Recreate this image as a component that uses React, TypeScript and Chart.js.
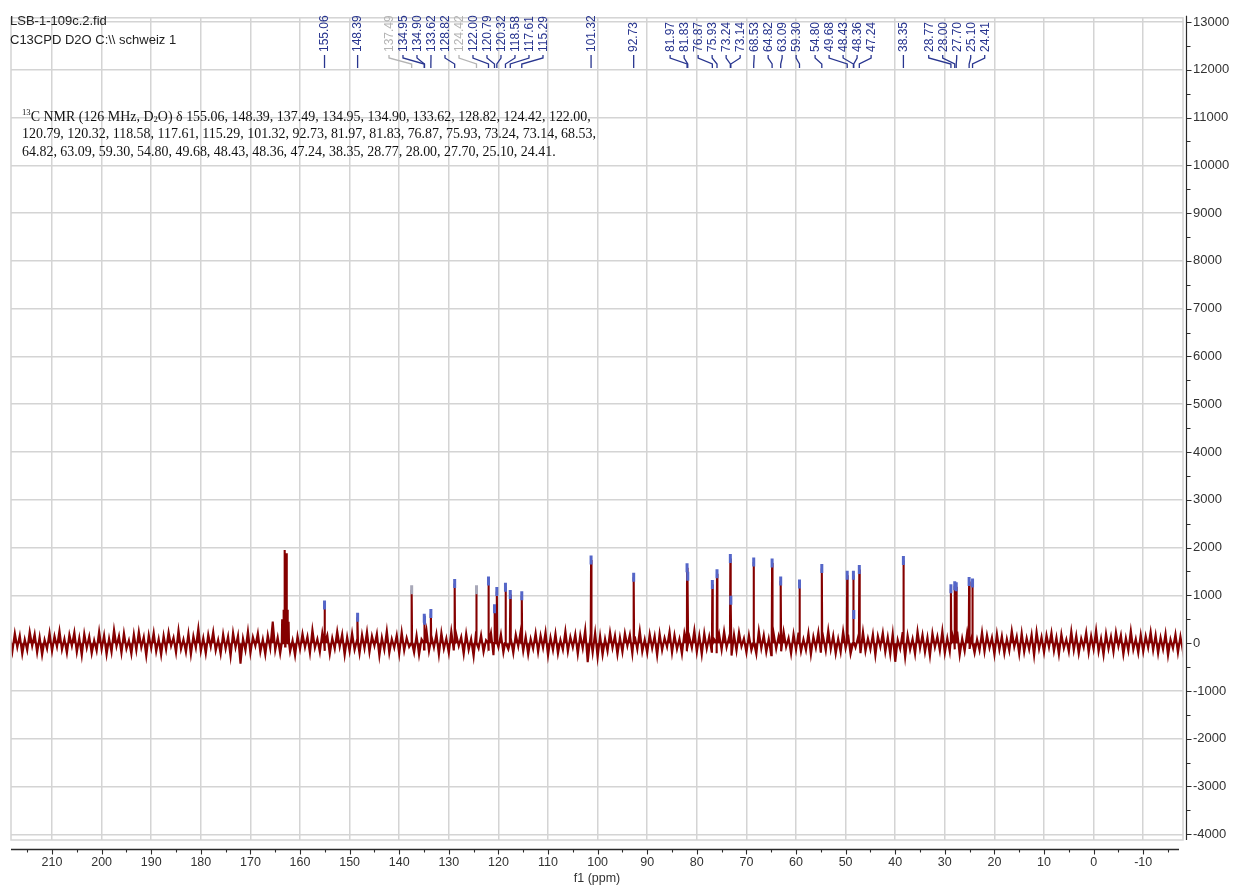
import React, { useEffect, useRef } from 'react';
import { Chart, registerables } from 'chart.js';

Chart.register(...registerables);

// ---------------- DATA ----------------
const xAxisMaxPpm = 218.27;
const xAxisMinPpm = -18.02;
const yAxisMin = -4120;
const yAxisMax = 13088;

const xTickValues = [210, 200, 190, 180, 170, 160, 150, 140, 130, 120, 110, 100, 90, 80, 70, 60, 50, 40, 30, 20, 10, 0, -10];
const yTickValues = [-4000, -3000, -2000, -1000, 0, 1000, 2000, 3000, 4000, 5000, 6000, 7000, 8000, 9000, 10000, 11000, 12000, 13000];

// baseline noise, sampled from 218.5 ppm every 0.5 ppm
const noiseStartPpm = 218.5;
const noiseStepPpm = 0.5;
const noiseValues = [
  120, -180, 210, -90, 160, -230, 80, -150, 240, -60, 190, -200, 130, -250, 70, -120, 220, -170, 150, -80,
  260, -140, 90, -210, 180, -60, 230, -190, 110, -260, 200, -100, 140, -220, 60, -160, 250, -130, 170, -240,
  100, -190, 280, -70, 150, -210, 210, -120, 60, -230, 190, -150, 240, -90, 130, -270, 170, -110, 220, -180,
  90, -250, 160, -140, 230, -60, 120, -200, 270, -130, 80, -190, 200, -240, 150, -100, 310, -170, 110, -220,
  180, -80, 240, -160, 70, -230, 190, -120, 140, -280, 220, -90, 160, -430, 100, -150, 250, -210, 130, -60,
  210, -190, 80, -240, 170, -110, 450, -150, 120, -220, 190, -70, 230, -180, 60, -260, 150, -130, 200, -90,
  140, -210, 280, -100, 90, -190, 220, -160, 170, -230, 110, -120, 250, -80, 190, -250, 130, -170, 210, -140,
  70, -220, 180, -110, 240, -190, 150, -60, 200, -270, 120, -140, 260, -210, 90, -100, 170, -230, 230, -160,
  110, -80, 210, -200, 160, -250, 80, -130, 270, -170, 140, -90, 190, -240, 220, -120, 100, -210, 250, -150,
  180, -60, 130, -230, 200, -140, 90, -280, 240, -110, 170, -190, 60, -160, 220, -250, 150, -90, 190, -200,
  240, -130, 110, -210, 180, -70, 260, -170, 140, -240, 90, -120, 210, -190, 160, -100, 230, -260, 120, -150,
  200, -220, 70, -140, 250, -180, 130, -90, 190, -230, 170, -110, 280, -400, 100, -200, 220, -300, 150, -250,
  90, -170, 230, -100, 160, -240, 120, -190, 210, -60, 180, -220, 140, -130, 260, -180, 80, -210, 190, -110,
  150, -260, 200, -150, 110, -80, 240, -200, 170, -130, 90, -230, 220, -170, 130, -100, 270, -190, 160, -240,
  210, -120, 140, -180, 80, -210, 190, -140, 250, -90, 120, -260, 180, -160, 230, -70, 100, -200, 170, -150,
  130, -230, 260, -110, 170, -190, 90, -250, 200, -120, 150, -170, 240, -80, 110, -220, 190, -140, 220, -180,
  80, -150, 210, -240, 140, -100, 230, -200, 120, -160, 270, -130, 160, -220, 90, -190, 250, -110, 180, -230,
  170, -90, 120, -210, 240, -170, 100, -130, 190, -260, 150, -80, 220, -190, 130, -240, 200, -390, 70, -120,
  230, -300, 160, -140, 90, -230, 250, -110, 180, -190, 120, -270, 210, -90, 140, -160, 260, -210, 110, -180,
  190, -130, 240, -250, 100, -170, 220, -120, 160, -210, 80, -150, 230, -180, 170, -100, 120, -240, 200, -140,
  150, -220, 90, -160, 260, -80, 140, -230, 210, -190, 110, -130, 180, -260, 240, -120, 130, -200, 170, -90,
  220, -170, 120, -240, 190, -110, 80, -180, 250, -150, 160, -220, 100, -90, 230, -200, 150, -130, 270, -180,
  100, -250, 200, -120, 140, -190, 230, -70, 170, -240, 110, -160, 260, -140, 90, -210, 180, -180, 150, -100,
  240, -150, 170, -220, 120, -130, 200, -260, 80, -110, 190, -200, 140, -170, 220, -90, 160, -230, 110, -160,
];

// solvent / reference multiplet (unlabelled)
const solventPpm = [163.6, 163.3, 163.05, 162.8, 162.55, 162.3];
const solventHeights = [500, 700, 1950, 1880, 700, 450];

// picked peaks
const peakPpm = [
  155.06, 148.39, 137.49, 134.95, 134.90, 133.62, 128.82, 124.42, 122.00,
  120.79, 120.32, 118.58, 117.61, 115.29, 101.32, 92.73, 81.97, 81.83, 76.87, 75.93, 73.24, 73.14, 68.53,
  64.82, 63.09, 59.30, 54.80, 49.68, 48.43, 48.36, 47.24, 38.35, 28.77, 28.00, 27.70, 25.10, 24.41,
];
const peakHeights = [
  800, 540, 1120, 520, 480, 620, 1250, 1120, 1300,
  720, 1080, 1170, 1020, 990, 1740, 1380, 1580, 1400, 1230, 1450, 1770, 900, 1700,
  1680, 1300, 1240, 1560, 1420, 1420, 600, 1540, 1730, 1140, 1200, 1180, 1290, 1260,
];
const peakLabels = [
  '155.06', '148.39', '137.49', '134.95', '134.90', '133.62', '128.82', '124.42', '122.00',
  '120.79', '120.32', '118.58', '117.61', '115.29', '101.32', '92.73', '81.97', '81.83', '76.87', '75.93', '73.24', '73.14', '68.53',
  '64.82', '63.09', '59.30', '54.80', '49.68', '48.43', '48.36', '47.24', '38.35', '28.77', '28.00', '27.70', '25.10', '24.41',
];
const greyPeakLabels = ['137.49', '124.42'];

const headerLines = ['LSB-1-109c.2.fid', 'C13CPD D2O C:\\\\ schweiz 1'];
const annotationPrefix = ['13', 'C NMR (126 MHz, D', '2', 'O) \u03b4 '];
const annotationLineCounts = [9, 14, 14];

// ---------------- STYLE ----------------
const SPECTRUM_COLOR = '#850000';
const LABEL_COLOR = '#28358f';
const GREY_LABEL = '#b4b4b4';
const GRID_COLOR = '#d4d4d4';
const AXIS_COLOR = '#2a2a2a';
const SANS = "'Liberation Sans', Arial, sans-serif";
const SERIF = "'Liberation Serif', 'Times New Roman', serif";

function layoutLabels(px: number[], gap: number): number[] {
  type Cl = { idx: number[]; center: number };
  let cl: Cl[] = px.map((p, i) => ({ idx: [i], center: p }));
  let merged = true;
  while (merged) {
    merged = false;
    for (let i = 0; i < cl.length - 1; i++) {
      const a = cl[i];
      const b = cl[i + 1];
      const aEnd = a.center + ((a.idx.length - 1) * gap) / 2;
      const bStart = b.center - ((b.idx.length - 1) * gap) / 2;
      if (bStart - aEnd < gap) {
        const idx = a.idx.concat(b.idx);
        const center = idx.reduce((s, k) => s + px[k], 0) / idx.length;
        cl.splice(i, 2, { idx, center });
        merged = true;
        break;
      }
    }
  }
  const out: number[] = new Array(px.length).fill(0);
  cl.forEach((c) => {
    const shift = c.idx.length > 1 ? -4 : 0;
    c.idx.forEach((k, j) => {
      out[k] = c.center - ((c.idx.length - 1) * gap) / 2 + j * gap + shift;
    });
  });
  return out;
}

const decorPlugin = {
  id: 'nmrDecor',
  afterDraw(chart: any) {
    const ctx: CanvasRenderingContext2D = chart.ctx;
    const area = chart.chartArea;
    const xs = chart.scales.x;
    const ys = chart.scales.y;
    ctx.save();

    // plot frame
    ctx.strokeStyle = GRID_COLOR;
    ctx.lineWidth = 1.5;
    ctx.strokeRect(area.left, area.top, area.right - area.left, area.bottom - area.top);

    // y axis line + ticks
    const yAxisX = Math.round(area.right + 3) + 0.5;
    ctx.strokeStyle = AXIS_COLOR;
    ctx.lineWidth = 1.2;
    ctx.beginPath();
    ctx.moveTo(yAxisX, area.top - 2);
    ctx.lineTo(yAxisX, area.bottom);
    yTickValues.forEach((v) => {
      const y = Math.round(ys.getPixelForValue(v)) + 0.5;
      ctx.moveTo(yAxisX, y);
      ctx.lineTo(yAxisX + 5, y);
      const m = v + 500;
      if (m < yAxisMax) {
        const ym = Math.round(ys.getPixelForValue(m)) + 0.5;
        ctx.moveTo(yAxisX, ym);
        ctx.lineTo(yAxisX + 4, ym);
      }
    });
    ctx.stroke();

    // x axis line + ticks
    const xAxisY = Math.round(area.bottom + 9) + 0.5;
    ctx.beginPath();
    ctx.lineWidth = 1.4;
    ctx.moveTo(area.left, xAxisY);
    ctx.lineTo(area.right - 4, xAxisY);
    ctx.stroke();
    ctx.lineWidth = 1.1;
    ctx.beginPath();
    xTickValues.forEach((v) => {
      const x = Math.round(xs.getPixelForValue(v)) + 0.5;
      ctx.moveTo(x, xAxisY);
      ctx.lineTo(x, xAxisY + 5);
      [v + 5, v - 5].forEach((m) => {
        if (m < xAxisMaxPpm && m > xAxisMinPpm) {
          const xm = Math.round(xs.getPixelForValue(m)) + 0.5;
          ctx.moveTo(xm, xAxisY);
          ctx.lineTo(xm, xAxisY + 3);
        }
      });
    });
    ctx.stroke();

    // peak labels
    const px = peakPpm.map((p) => xs.getPixelForValue(p));
    const lx = layoutLabels(px, 14);
    ctx.font = `12px ${SANS}`;
    ctx.textAlign = 'left';
    ctx.textBaseline = 'middle';
    peakLabels.forEach((lab, i) => {
      const col = greyPeakLabels.includes(lab) ? GREY_LABEL : LABEL_COLOR;
      ctx.fillStyle = col;
      ctx.strokeStyle = col;
      ctx.save();
      ctx.translate(lx[i], 52);
      ctx.rotate(-Math.PI / 2);
      ctx.fillText(lab, 0, 0.5);
      ctx.restore();
      ctx.lineWidth = 1.3;
      ctx.beginPath();
      ctx.moveTo(lx[i], 55);
      ctx.lineTo(lx[i], 58);
      ctx.lineTo(px[i], 64);
      ctx.lineTo(px[i], 68);
      ctx.stroke();
    });

    // header text
    ctx.fillStyle = '#222';
    ctx.font = `13px ${SANS}`;
    ctx.textBaseline = 'middle';
    ctx.fillText(headerLines[0], 10, 21);
    ctx.fillText(headerLines[1], 10, 40);

    // annotation
    const numsLines: string[] = [];
    let k = 0;
    annotationLineCounts.forEach((n, li) => {
      const part = peakLabels.slice(k, k + n);
      k += n;
      const last = li === annotationLineCounts.length - 1;
      numsLines.push(part.join(', ') + (last ? '.' : ','));
    });
    const bodyFont = `14.5px ${SERIF}`;
    const smallFont = `9px ${SERIF}`;
    ctx.font = bodyFont;
    const w2 = ctx.measureText(numsLines[1]).width;
    const f = (596 - 22) / w2;
    ctx.fillStyle = '#111';
    ctx.textBaseline = 'middle';
    const drawSegs = (segs: { t: string; font: string; dy: number }[], x: number, y: number) => {
      ctx.save();
      ctx.translate(x, y);
      ctx.scale(f, 1);
      let cx = 0;
      segs.forEach((s) => {
        ctx.font = s.font;
        ctx.fillText(s.t, cx, s.dy);
        cx += ctx.measureText(s.t).width;
      });
      ctx.restore();
    };
    drawSegs(
      [
        { t: annotationPrefix[0], font: smallFont, dy: -4 },
        { t: annotationPrefix[1], font: bodyFont, dy: 0 },
        { t: annotationPrefix[2], font: smallFont, dy: 3 },
        { t: annotationPrefix[3] + numsLines[0], font: bodyFont, dy: 0 },
      ],
      22,
      117
    );
    drawSegs([{ t: numsLines[1], font: bodyFont, dy: 0 }], 22, 134.5);
    drawSegs([{ t: numsLines[2], font: bodyFont, dy: 0 }], 22, 152);

    ctx.restore();
  },
};

function buildSpectrum() {
  const pts: { x: number; y: number }[] = [];
  noiseValues.forEach((v, i) => pts.push({ x: noiseStartPpm - i * noiseStepPpm, y: v }));
  const hw = 0.08;
  const addPeak = (p: number, h: number) => {
    pts.push({ x: p + hw, y: 0 });
    pts.push({ x: p, y: h });
    pts.push({ x: p - hw, y: 0 });
  };
  solventPpm.forEach((p, i) => addPeak(p, solventHeights[i]));
  peakPpm.forEach((p, i) => addPeak(p, peakHeights[i]));
  pts.sort((a, b) => b.x - a.x);
  return pts;
}

export default function App() {
  const canvasRef = useRef<HTMLCanvasElement | null>(null);

  useEffect(() => {
    document.body.style.margin = '0';
    const canvas = canvasRef.current;
    if (!canvas) return;
    const tickFont = { family: SANS, size: 12.5 };
    const chart = new Chart(canvas, {
      type: 'line',
      data: {
        datasets: [
          {
            type: 'line',
            data: peakPpm.map((p, i) => ({ x: p, y: peakHeights[i] })),
            showLine: false,
            pointStyle: 'line',
            pointRotation: 90,
            pointRadius: 4.5,
            pointBorderWidth: 3,
            pointBorderColor: peakLabels.map((l) => (greyPeakLabels.includes(l) ? '#a8a8b8' : '#5566c8')),
            pointBackgroundColor: '#5566c8',
            order: 0,
          } as any,
          {
            type: 'line',
            data: buildSpectrum(),
            borderColor: SPECTRUM_COLOR,
            backgroundColor: SPECTRUM_COLOR,
            borderWidth: 2.1,
            pointRadius: 0,
            tension: 0,
            fill: 'origin',
            order: 1,
          } as any,
        ],
      },
      options: {
        animation: false,
        responsive: false,
        maintainAspectRatio: false,
        devicePixelRatio: 1,
        parsing: false as any,
        normalized: true,
        events: [],
        layout: { padding: { left: 11, top: 13, right: 0, bottom: 0 } },
        plugins: { legend: { display: false }, tooltip: { enabled: false } },
        scales: {
          x: {
            type: 'linear',
            reverse: true,
            min: xAxisMinPpm,
            max: xAxisMaxPpm,
            position: 'bottom',
            afterBuildTicks: (s: any) => {
              s.ticks = xTickValues.map((v) => ({ value: v }));
            },
            afterFit: (s: any) => {
              s.height = 48;
            },
            grid: { color: GRID_COLOR, lineWidth: 1.5, drawTicks: false },
            border: { display: false },
            ticks: {
              padding: 15,
              color: '#333',
              font: tickFont,
              maxRotation: 0,
              autoSkip: false,
              callback: (v: any) => String(v),
            },
            title: {
              display: true,
              text: 'f1 (ppm)',
              color: '#333',
              font: tickFont,
              padding: { top: 0, bottom: 2 },
            },
          },
          y: {
            type: 'linear',
            position: 'right',
            min: yAxisMin,
            max: yAxisMax,
            afterBuildTicks: (s: any) => {
              s.ticks = yTickValues.map((v) => ({ value: v }));
            },
            afterFit: (s: any) => {
              s.width = 58;
            },
            grid: { color: GRID_COLOR, lineWidth: 1.5, drawTicks: false },
            border: { display: false },
            ticks: {
              padding: 10,
              color: '#333',
              font: { family: SANS, size: 13 },
              autoSkip: false,
              callback: (v: any) => String(v),
            },
          },
        },
      } as any,
      plugins: [decorPlugin],
    });
    return () => chart.destroy();
  }, []);

  return (
    <div style={{ width: 1241, height: 888, background: '#fff' }}>
      <canvas ref={canvasRef} width={1241} height={888} style={{ display: 'block' }} />
    </div>
  );
}
